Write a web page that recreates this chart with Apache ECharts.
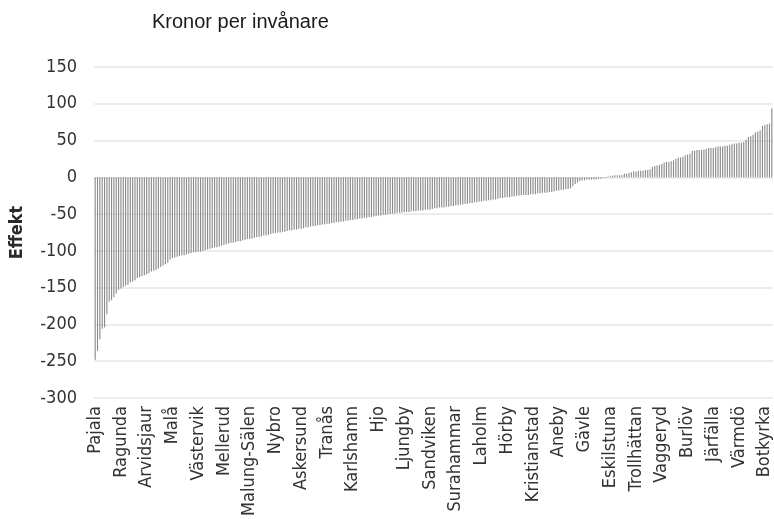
<!DOCTYPE html>
<html>
<head>
<meta charset="utf-8">
<script src="https://cdn.jsdelivr.net/npm/echarts@6/dist/echarts.min.js"></script>
<style>
html,body{margin:0;padding:0;background:#fff;}
#chart{width:774px;height:519px;}
</style>
</head>
<body>
<div id="chart"></div>
<script>
// Visible category labels (every 11th municipality, sorted by effect)
const labelNames = ["Pajala","Ragunda","Arvidsjaur","Malå","Västervik","Mellerud","Malung-Sälen","Nybro","Askersund","Tranås","Karlshamn","Hjo","Ljungby","Sandviken","Surahammar","Laholm","Hörby","Kristianstad","Aneby","Gävle","Eskilstuna","Trollhättan","Vaggeryd","Burlöv","Järfälla","Värmdö","Botkyrka"];
const labelStep = 11;

// Effekt, kronor per invånare (290 municipalities, sorted ascending)
const values0 = [-248,-236,-220,-206,-204,-186,-169,-167,-163,-158];
const values1 = [-153,-151,-149,-147,-146,-143,-142,-140,-137,-136];
const values2 = [-134,-133,-132,-130,-128,-127,-126,-124,-122,-120];
const values3 = [-118,-116,-112,-110,-109,-108,-107,-106,-106,-105];
const values4 = [-104,-103,-102,-102,-101,-101,-100,-99,-98,-97];
const values5 = [-96,-95,-95,-94,-93,-92,-91,-90,-89,-89];
const values6 = [-88,-87,-87,-86,-85,-84,-84,-83,-82,-81];
const values7 = [-81,-80,-79,-79,-78,-77,-76,-76,-75,-75];
const values8 = [-74,-74,-73,-72,-72,-71,-71,-70,-70,-69];
const values9 = [-68,-68,-67,-66,-66,-65,-65,-64,-64,-63];
const values10 = [-63,-62,-62,-61,-61,-60,-60,-59,-59,-58];
const values11 = [-58,-57,-57,-56,-56,-55,-55,-54,-54,-53];
const values12 = [-53,-52,-52,-51,-51,-50,-50,-49,-49,-48];
const values13 = [-48,-48,-47,-47,-47,-46,-46,-46,-45,-45];
const values14 = [-45,-44,-44,-44,-43,-42,-42,-41,-41,-41];
const values15 = [-40,-40,-39,-39,-38,-38,-37,-37,-36,-36];
const values16 = [-35,-35,-34,-34,-33,-33,-32,-32,-31,-31];
const values17 = [-30,-30,-29,-28,-28,-27,-27,-27,-26,-26];
const values18 = [-25,-25,-24,-24,-24,-24,-23,-23,-23,-22];
const values19 = [-22,-21,-21,-21,-20,-20,-19,-18,-18,-17];
const values20 = [-17,-16,-16,-15,-12,-9,-7,-5,-4,-4];
const values21 = [-3,-3,-3,-3,-3,-2,-2,-1,-1,1];
const values22 = [2,2,3,3,3,3,5,5,6,7];
const values23 = [8,8,9,9,9,10,10,11,14,15];
const values24 = [16,17,18,20,21,21,22,23,25,27];
const values25 = [27,28,30,31,32,36,36,37,37,37];
const values26 = [38,39,40,40,40,41,42,42,42,43];
const values27 = [43,44,45,46,46,47,47,48,51,55];
const values28 = [56,58,61,62,64,70,71,72,73,94];

const yTicks = {min: -300, max: 150, interval: 50};

const values = [].concat(values0,values1,values2,values3,values4,values5,values6,values7,values8,values9,
  values10,values11,values12,values13,values14,values15,values16,values17,values18,values19,
  values20,values21,values22,values23,values24,values25,values26,values27,values28);

const categories = values.map((v, i) => (i % labelStep === 0 && labelNames[i / labelStep]) ? labelNames[i / labelStep] : '');

const narrow = '"Liberation Sans Narrow","Arial Narrow","DejaVu Sans Condensed",sans-serif';

const chart = echarts.init(document.getElementById('chart'), null, {renderer: 'canvas'});
chart.setOption({
  animation: false,
  backgroundColor: '#ffffff',
  title: {
    text: 'Kronor per invånare',
    left: 147, top: 7,
    textStyle: {fontFamily: 'Liberation Sans, Arial, sans-serif', fontSize: 20, fontWeight: 'normal', color: '#1a1a1a'}
  },
  grid: {left: 92, right: 1, top: 67, bottom: 121, containLabel: false},
  xAxis: {
    type: 'category',
    data: categories,
    axisLine: {show: false, onZero: false},
    axisTick: {show: false},
    axisLabel: {
      interval: labelStep - 1,
      rotate: 90,
      fontFamily: narrow,
      fontSize: 18,
      color: '#333333',
      margin: 8
    },
    splitLine: {show: false}
  },
  yAxis: {
    type: 'value',
    min: yTicks.min, max: yTicks.max, interval: yTicks.interval,
    name: 'Effekt',
    nameLocation: 'middle',
    nameGap: 68,
    nameRotate: 90,
    nameTextStyle: {fontFamily: narrow, fontSize: 18, fontWeight: 'bold', color: '#2a2a2a'},
    axisLine: {show: false},
    axisTick: {show: false},
    axisLabel: {fontFamily: narrow, fontSize: 18, color: '#333333', margin: 17},
    splitLine: {lineStyle: {color: '#ececec', width: 2}}
  },
  series: [{
    type: 'bar',
    data: values,
    barWidth: '48%',
    itemStyle: {color: '#8a8a8a'},
    emphasis: {disabled: true}
  }]
});
</script>
</body>
</html>
